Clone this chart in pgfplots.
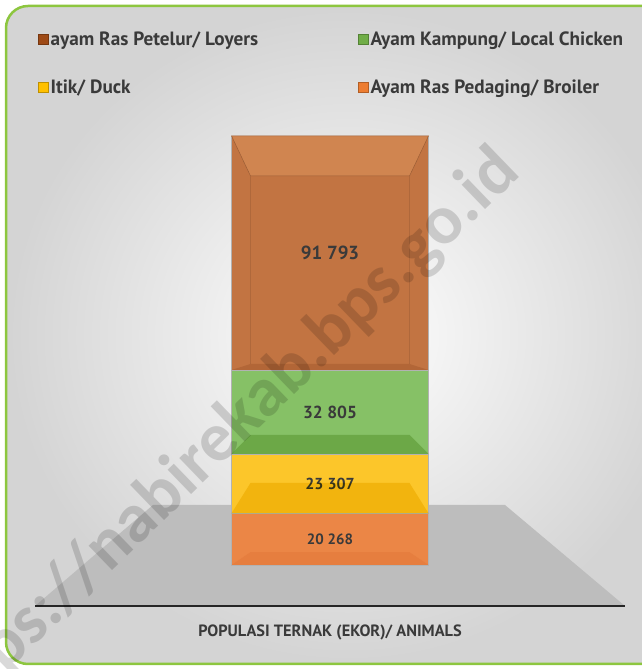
\documentclass[border=0pt]{standalone}
\usepackage{pgfplots}
\pgfplotsset{compat=1.18}
\usepackage{fontspec}
\setmainfont{PT Sans}
\newfontfamily\wmfont{Carlito}
\definecolor{cPet}{HTML}{C27442}
\definecolor{cPetT}{HTML}{D08550}
\definecolor{cPetL}{HTML}{9E4A16}
\definecolor{cKam}{HTML}{86C166}
\definecolor{cKamL}{HTML}{70AD47}
\definecolor{cItik}{HTML}{FCC62A}
\definecolor{cItikL}{HTML}{FFC000}
\definecolor{cBro}{HTML}{EB8646}
\definecolor{cBroL}{HTML}{ED7D31}
\definecolor{cBorder}{HTML}{8DC63F}
\definecolor{cLab}{HTML}{3A3A3A}
\definecolor{mulG}{RGB}{207,222,178}
\definecolor{mulY}{RGB}{245,232,90}
\definecolor{mulO}{RGB}{250,240,232}
\definecolor{mulB}{RGB}{235,225,215}
\begin{document}
\begin{tikzpicture}
\useasboundingbox (0bp,0bp) rectangle (642bp,669bp);
\begin{scope}
\clip (0bp,0bp) rectangle (642bp,669bp);
\shade[rounded corners=22bp, inner color=white, outer color=black!17] (6bp,5bp) rectangle (690bp,663bp);
\draw[rounded corners=22bp, cBorder, line width=2.5bp] (6bp,5bp) rectangle (690bp,663bp);
\end{scope}
% floor of the 3D chart (decoration)
\fill[black!26] (35bp,63bp) -- (625bp,63bp) -- (505bp,164bp) -- (153bp,164bp) -- cycle;
\begin{axis}[
  at={(35bp,63bp)}, anchor=south west,
  scale only axis, width=590bp, height=476bp,
  xmin=0, xmax=1, ymin=-16070, ymax=170500,
  axis x line=bottom, axis y line=none,
  axis line style={-, black!85, line width=1.6bp},
  xtick=\empty, ytick=\empty,
  ybar stacked, bar width=197bp,
  point meta=explicit symbolic,
  nodes near coords,
  xlabel={POPULASI TERNAK (EKOR)/ ANIMALS},
  xlabel style={at={(axis description cs:0.5,0)}, anchor=center, yshift=-26bp,
     font=\bfseries\fontsize{16.4}{16.4}\selectfont, text=cLab},
  reverse legend,
  legend columns=2,
  legend cell align=left,
  legend style={draw=none, fill=none, at={(0,1.215)}, anchor=north west,
     font=\bfseries\fontsize{19.3}{23}\selectfont, text=cLab,
     row sep=29bp, nodes={inner sep=2bp},
     /tikz/every even column/.append style={column sep=98bp}},
]
\addplot[fill=cBro, draw=black!30, line width=0.4bp,
  nodes near coords style={font=\bfseries\fontsize{15}{15}\selectfont, text=cLab, anchor=center},
  legend image code/.code={\draw[fill=cBroL, draw=cBroL!75!black] (0bp,-5bp) rectangle (10bp,5bp);}]
  coordinates {(0.5,20268) [20 268]};
\addlegendentry{Ayam Ras Pedaging/ Broiler}
\addplot[fill=cItik, draw=black!30, line width=0.4bp,
  nodes near coords style={font=\bfseries\fontsize{16}{16}\selectfont, text=cLab, anchor=center},
  legend image code/.code={\draw[fill=cItikL, draw=cItikL!75!black] (0bp,-5bp) rectangle (10bp,5bp);}]
  coordinates {(0.5,23307) [23 307]};
\addlegendentry{Itik/ Duck}
\addplot[fill=cKam, draw=black!30, line width=0.4bp,
  nodes near coords style={font=\bfseries\fontsize{17.5}{17.5}\selectfont, text=cLab, anchor=center},
  legend image code/.code={\draw[fill=cKamL, draw=cKamL!75!black] (0bp,-5bp) rectangle (10bp,5bp);}]
  coordinates {(0.5,32805) [32 805]};
\addlegendentry{Ayam Kampung/ Local Chicken}
\addplot[fill=cPet, draw=black!30, line width=0.4bp,
  nodes near coords style={font=\bfseries\fontsize{19}{19}\selectfont, text=cLab, anchor=center},
  legend image code/.code={\draw[fill=cPetL, draw=cPetL!75!black] (0bp,-5bp) rectangle (10bp,5bp);}]
  coordinates {(0.5,91793) [91 793]};
\addlegendentry{ayam Ras Petelur/ Loyers}
\end{axis}
% 3D bevel shading of the bar faces (decoration)
\fill[cPetT, draw=cPet!80!black, line width=0.5bp] (231.5bp,533.1bp) -- (428.5bp,533.1bp) -- (409.5bp,493bp) -- (250.5bp,493bp) -- cycle;
\draw[cPet!90!black, line width=0.4bp] (250.5bp,493bp) -- (250.5bp,305bp) (409.5bp,493bp) -- (409.5bp,305bp);
\fill[mulB, blend mode=multiply] (231.5bp,299bp) -- (428.5bp,299bp) -- (409.5bp,305bp) -- (250.5bp,305bp) -- cycle;
\fill[mulG, blend mode=multiply] (231.5bp,215.2bp) -- (428.5bp,215.2bp) -- (409.5bp,234bp) -- (250.5bp,234bp) -- cycle;
\fill[mulY, blend mode=multiply] (231.5bp,155.7bp) -- (428.5bp,155.7bp) -- (409.5bp,186bp) -- (250.5bp,186bp) -- cycle;
\fill[mulO, blend mode=multiply] (231.5bp,104bp) -- (428.5bp,104bp) -- (409.5bp,116.8bp) -- (250.5bp,116.8bp) -- cycle;
\begin{scope}
\clip (0bp,0bp) rectangle (642bp,669bp);
\node[rotate=44, anchor=base east, inner sep=0pt, text=black, opacity=0.15, font=\wmfont\bfseries\fontsize{70}{70}\selectfont] at (522bp,494bp) {https://nabirekab.bps.go.id};
\end{scope}
\end{tikzpicture}
\end{document}
